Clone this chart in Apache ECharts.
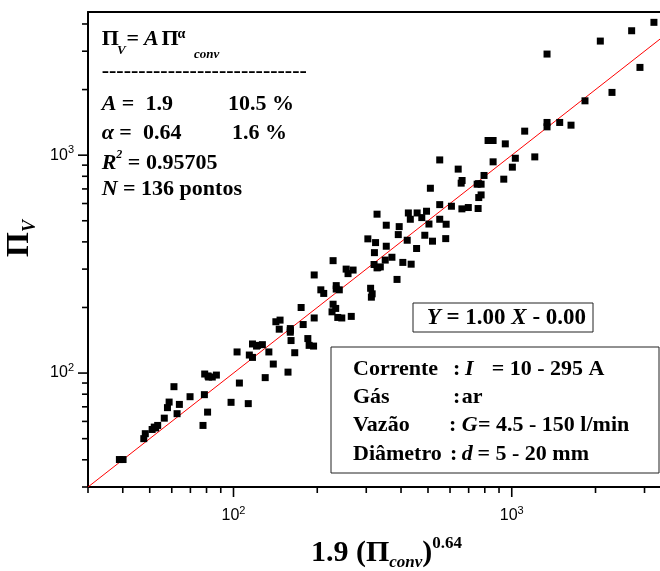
<!DOCTYPE html>
<html>
<head>
<meta charset="utf-8">
<script src="https://cdn.jsdelivr.net/npm/echarts@6/dist/echarts.min.js"></script>
<style>html,body{margin:0;padding:0;background:#fff}#c{width:660px;height:571px}</style>
</head>
<body>
<div id="c"></div>
<script>
// ---- data ----
const xVals = [3243,2697,2081,1339,2889,2292,1833,1339,1339,1487,1633,1113,822,857,948,1210,1030,857,1005,551,
  642,795,936,663,658,751,776,510,776,761,551,607,662,698,757,328,425,457,494,432,
  475,551,354,394,504,581,391,487,304,324,421,519,579,354,455,321,228,371,351,406,
  435,320,328,337,254,258,269,195,387,206,211,234,234,240,311,315,313,
  175,228,233,226,237,245,265,195,178,185,187,194,142,147,146,160,160,161,166,157,
  139,130,134,117,121,127,114,117,103,105,98,113,78.8,81.4,83.9,86.8,78.6,80.7,77.7,69.8,
  61.1,58.7,63.9,57.9,62.7,56.4,53.4,51.9,51.0,48.2,47.6,38.9,40.1,
  52.5,81,122,160,330,760];
const yVals = [4070,3724,3339,2911,2528,1941,1776,1413,1349,1413,1373,1289,1168,1168,1127,982,968,932,881,951,
  863,807,776,765,744,736,736,705,657,639,593,583,567,575,569,536,543,543,553,508,
  517,508,477,470,483,482,432,429,413,397,407,403,414,382,373,357,328,340,330,322,
  316,315,304,307,300,286,297,282,269,241,232,252,243,241,245,231,223,
  200,207,198,191,180,179,182,179,167,144,134,133,172,175,159,160,154,141,124,101,
  110,95.3,125,136,133,135,121,118,125,90,73.4,72.4,99,95.9,95.9,97.9,79.6,66.2,57.5,77.9,
  86.6,73.6,71.8,69.4,65.1,62.1,57.5,56.5,55.1,52.7,50.0,40.1,40.1,
  56,97,134,157,305,740];
const fitSlope = 1.00, fitIntercept = -0.00;
const fitX = [30, 3410];
const xMin = 30, xMax = 3410, yMin = 30, yMax = 4540;
const majorTicks = [100, 1000];
const majorTickExp = ['2', '3'];
const xMinorTicks = [30,40,50,60,70,80,90,200,300,400,500,600,700,800,900,2000,3000];
const yMinorTicks = [30,40,50,60,70,80,90,200,300,400,500,600,700,800,900,2000,3000,4000];

// ---- chart ----
const SERIF = "'Liberation Serif','Times New Roman',serif";
const SANS = "'Liberation Sans',Arial,sans-serif";
const chart = echarts.init(document.getElementById('c'));

function tickLabel(v) {
  for (let i = 0; i < majorTicks.length; i++) {
    if (Math.abs(v - majorTicks[i]) / majorTicks[i] < 1e-6) return '{b|10}{s|' + majorTickExp[i] + '}';
  }
  return '';
}
const labelRich = {
  b: {fontFamily: SANS, fontSize: 16, lineHeight: 22, color: '#000'},
  s: {fontFamily: SANS, fontSize: 11, lineHeight: 9, verticalAlign: 'top', color: '#000'}
};

function tickSeries(data, size, offset) {
  return {type: 'scatter', data: data, symbol: 'rect', symbolSize: size, symbolOffset: offset,
    clip: false, silent: true, itemStyle: {color: '#000', opacity: 1}, emphasis: {disabled: true}, z: 5};
}

function tok(fs, italic, extra) {
  return Object.assign({fontFamily: SERIF, fontWeight: 'bold', fontStyle: italic ? 'italic' : 'normal',
    fontSize: fs, fill: '#000', color: '#000'}, extra || {});
}
function txt(x, y, text, opt) {
  opt = opt || {};
  const fs = opt.size || 22;
  const rich = opt.rich || {t: tok(fs, opt.italic)};
  const content = opt.rich ? text : '{t|' + text + '}';
  return {type: 'text', x: x, y: y, z: 100, silent: true,
    style: {
      text: content, fill: '#000',
      font: (opt.italic ? 'italic ' : '') + 'bold ' + fs + 'px ' + SERIF,
      rich: rich,
      align: 'left', verticalAlign: 'middle', textAlign: 'left', textVerticalAlign: 'middle'
    }};
}
const R22 = {
  m: tok(22, false, {lineHeight: 28}),
  i: tok(22, true, {lineHeight: 28}),
  sup: tok(12, true, {lineHeight: 20, verticalAlign: 'top'})
};
const R23 = {
  m: tok(23, false, {lineHeight: 28}),
  i: tok(23, true, {lineHeight: 28})
};

const graphics = [
  // top-left block
  txt(101.7, 39.5, 'Π'),
  txt(117, 51, 'V', {size: 13, italic: true}),
  txt(126.5, 39.5, '='),
  txt(144, 39.5, 'A', {italic: true}),
  txt(161.5, 39.5, 'Π'),
  txt(177.5, 34.5, 'α', {size: 14}),
  txt(194, 54.5, 'conv', {size: 13, italic: true}),
  txt(101.7, 71, '----------------------------'),
  txt(101.7, 104, '{i|A}{m| =  1.9}', {rich: R22}),
  txt(228, 104, '10.5 %'),
  txt(101.7, 133.5, '{i|α}{m| =  0.64}', {rich: R22}),
  txt(232, 133.5, '1.6 %'),
  txt(101.7, 163, '{i|R}{sup|2}{m| = 0.95705}', {rich: R22}),
  txt(101.7, 189.5, '{i|N}{m| = 136 pontos}', {rich: R22}),
  // fit equation box
  {type: 'rect', z: 99, silent: true, shape: {x: 413, y: 303, width: 180, height: 29},
    style: {fill: '#fff', stroke: '#222', lineWidth: 1}},
  txt(426.7, 318, '{i|Y}{m| = 1.00 }{i|X}{m| - 0.00}', {rich: R23}),
  // conditions box
  {type: 'rect', z: 99, silent: true, shape: {x: 331, y: 347, width: 328, height: 126},
    style: {fill: '#fff', stroke: '#222', lineWidth: 1}},
  txt(353, 369.3, 'Corrente'), txt(453, 369.3, ':'), txt(465, 369.3, 'I', {italic: true}), txt(491.7, 369.3, '= 10 - 295 A'),
  txt(353, 397, 'Gás'), txt(453, 397, ':'), txt(461.7, 397, 'ar'),
  txt(353, 425.5, 'Vazão'), txt(449, 425.5, ':'), txt(461.7, 425.5, 'G', {italic: true}), txt(478, 425.5, '= 4.5 - 150 l/min'),
  txt(353, 454.5, 'Diâmetro'), txt(450, 454.5, ':'), txt(461.7, 454.5, 'd', {italic: true}), txt(477.5, 454.5, '= 5 - 20 mm')
];

const option = {
  animation: false,
  backgroundColor: '#fff',
  grid: {left: 88, right: 0, top: 12, bottom: 84, containLabel: false, outerBoundsMode: 'none'},
  xAxis: [{
    type: 'log', logBase: 10, min: xMin, max: xMax, position: 'bottom',
    axisLine: {show: true, onZero: false, lineStyle: {color: '#000', width: 2}},
    axisTick: {show: false}, minorTick: {show: false}, splitLine: {show: false},
    axisLabel: {formatter: tickLabel, rich: labelRich, margin: 18, showMinLabel: false, showMaxLabel: false},
    name: '{m|1.9 (Π}{sub|conv}{m|)}{sup|0.64}',
    nameLocation: 'middle', nameGap: 48,
    nameTextStyle: {
      padding: [0, 0, 0, 25],
      rich: {
        m: {fontFamily: SERIF, fontWeight: 'bold', fontSize: 30, lineHeight: 36, color: '#000'},
        sub: {fontFamily: SERIF, fontWeight: 'bold', fontStyle: 'italic', fontSize: 17, lineHeight: 5, verticalAlign: 'bottom', color: '#000'},
        sup: {fontFamily: SERIF, fontWeight: 'bold', fontSize: 17, lineHeight: 12, verticalAlign: 'top', color: '#000'}
      }
    }
  }, {
    type: 'value', position: 'top', min: 0, max: 1,
    axisLine: {show: true, onZero: false, lineStyle: {color: '#000', width: 2}},
    axisTick: {show: false}, axisLabel: {show: false}, splitLine: {show: false}
  }],
  yAxis: {
    type: 'log', logBase: 10, min: yMin, max: yMax,
    axisLine: {show: true, onZero: false, lineStyle: {color: '#000', width: 2}},
    axisTick: {show: false}, minorTick: {show: false}, splitLine: {show: false},
    axisLabel: {formatter: tickLabel, rich: labelRich, margin: 14, showMinLabel: false, showMaxLabel: false},
    name: '{m|Π}{sub|V}',
    nameLocation: 'middle', nameGap: 38, nameRotate: 90,
    nameTextStyle: {
      padding: [0, 0, 0, 22],
      rich: {
        m: {fontFamily: SERIF, fontWeight: 'bold', fontSize: 32, lineHeight: 38, color: '#000'},
        sub: {fontFamily: SERIF, fontWeight: 'bold', fontStyle: 'italic', fontSize: 18, lineHeight: 14, verticalAlign: 'bottom', color: '#000'}
      }
    }
  },
  series: [
    {type: 'line', name: 'fit', data: fitX.map(v => [v, fitSlope * v + fitIntercept]), symbol: 'none',
      lineStyle: {color: '#ff0000', width: 1, opacity: 1}, silent: true, z: 1, emphasis: {disabled: true}},
    {type: 'scatter', name: 'pontos', data: xVals.map((x, i) => [x, yVals[i]]), symbol: 'rect', symbolSize: 7,
      itemStyle: {color: '#000', opacity: 1}, z: 3, emphasis: {disabled: true}},
    tickSeries(majorTicks.map(v => [v, yMin]), [1.6, 9], [0, 5.5]),
    tickSeries(xMinorTicks.map(v => [v, yMin]), [1.6, 5], [0, 3.5]),
    tickSeries(majorTicks.map(v => [xMin, v]), [9, 1.6], [-5.5, 0]),
    tickSeries(yMinorTicks.map(v => [xMin, v]), [5, 1.6], [-3.5, 0])
  ],
  graphic: graphics
};
chart.setOption(option);
</script>
</body>
</html>
